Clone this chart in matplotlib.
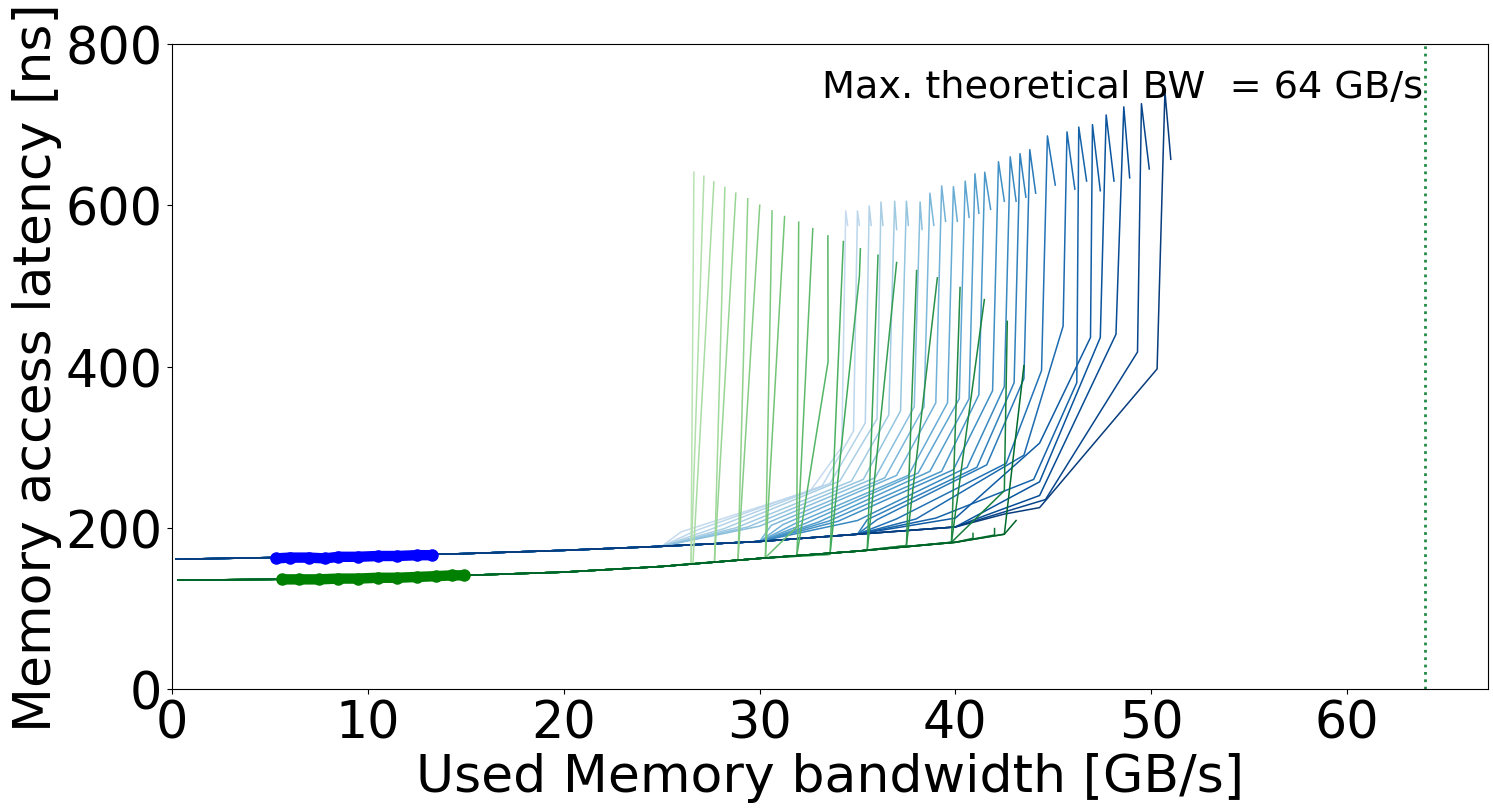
import numpy as np
import matplotlib
matplotlib.use('Agg')
from matplotlib import pyplot as plt

# shared low-load part of the curves (bandwidth GB/s, latency ns)
blue_base_bw = [0.2, 5, 10, 15, 20, 25, 30, 35, 40]
blue_base_lat = [161, 163, 165, 168, 172, 177, 183, 192, 201]
green_base_bw = [0.3, 5, 10, 15, 20, 25, 30, 35, 40, 42.5]
green_base_lat = [135, 136, 138, 141, 145, 152, 162, 171, 182, 190]

# blue family, light -> dark
blue_k1_bw = [26.0, 26.8, 27.5, 28.2, 28.8, 29.4, 30.0, 30.6, 31.2, 31.8, 32.4, 33.0, 33.5,
              34.0, 35.0, 35.5, 36.0, 37.0, 38.0, 39.0, 40.0, 41.0, 41.5, 42.0, 42.5]
blue_k1_lat = [195, 197, 198, 199, 200, 201, 202, 203, 204, 205, 206, 207, 208,
               208, 209, 210, 210, 211, 211, 212, 212, 214, 215, 216, 217]
blue_k2_bw = [32.6, 33.2, 33.6, 34.1, 34.7, 35.3, 35.9, 36.4, 37.0, 37.6, 38.1, 38.7, 39.3,
              39.9, 40.6, 41.1, 41.6, 42.6, 43.5, 44.0, 44.3, 44.3, 44.3, 44.6, 44.3]
blue_k2_lat = [246, 252, 255, 258, 258, 260, 262, 262, 265, 265, 268, 270, 270,
               272, 275, 275, 278, 280, 290, 260, 305, 257, 240, 235, 225]
blue_steep_bw = [34.2, 34.8, 35.4, 36.0, 36.6, 37.2, 37.9, 38.4, 39.0, 39.6, 40.2, 40.7, 41.2,
                 41.9, 42.5, 43.0, 43.5, 44.4, 45.5, 46.2, 46.9, 47.4, 48.2, 49.3, 50.3]
blue_steep_lat = [300, 320, 330, 335, 340, 345, 350, 350, 355, 355, 360, 360, 365,
                  370, 375, 380, 385, 395, 450, 380, 436, 436, 440, 418, 397]
blue_top_bw = [34.4, 35.0, 35.6, 36.2, 36.9, 37.5, 38.2, 38.7, 39.3, 39.9, 40.5, 41.0, 41.5,
               42.2, 42.8, 43.3, 43.8, 44.7, 45.7, 46.3, 47.0, 47.7, 48.6, 49.5, 50.7]
blue_top_lat = [593, 593, 599, 604, 605, 605, 604, 615, 624, 623, 630, 639, 641,
                654, 660, 664, 669, 686, 691, 697, 700, 712, 722, 726, 741]
blue_end_bw = [34.5, 35.1, 35.7, 36.3, 37.0, 37.6, 38.3, 38.9, 39.5, 40.1, 40.7, 41.2, 41.8,
               42.5, 43.1, 43.6, 44.1, 45.1, 46.1, 46.7, 47.4, 48.1, 48.9, 49.9, 51.0]
blue_end_lat = [575, 575, 575, 575, 570, 575, 570, 575, 580, 580, 585, 590, 595,
                605, 605, 610, 615, 625, 620, 630, 618, 630, 634, 645, 657]

# green family, light -> dark (mid point is None when the jump is direct)
green_knee_bw = [26.5, 26.5, 26.6, 27.7, 27.7, 28.9, 28.9, 30.3, 30.3, 30.3, 31.9, 31.9, 33.6,
                 33.6, 35.5, 35.5, 37.5, 37.5, 39.8, 39.8, 39.8, 40.9, 42.0, 42.5, 42.5]
green_knee_lat = [155, 155, 156, 158, 158, 160, 160, 163, 163, 163, 165, 165, 167,
                  167, 172, 172, 178, 178, 182, 182, 182, 187, 191, 192, 192]
green_mid_bw = [None, None, None, None, None, None, None, None, None, 31.9, None, 33.5, None,
                35.1, None, None, None, None, None, None, 42.5, None, None, None, None]
green_mid_lat = [None, None, None, None, None, None, None, None, None, 201, None, 406, None,
                 512, None, None, None, None, None, None, 246, None, None, None, None]
green_top_bw = [26.65, 27.16, 27.67, 28.23, 28.79, 29.4, 30.01, 30.64, 31.28, 32.0, 32.72, 33.49, 34.28,
                35.15, 36.05, 37.0, 38.02, 39.08, 40.24, 41.48, 42.65, 40.9, 42.0, 43.5, 43.1]
green_top_lat = [641, 636, 629, 622, 615, 608, 600, 593, 586, 579, 571, 562, 555,
                 546, 538, 529, 519, 510, 498, 483, 456, 193, 199, 401, 209]

# measured points (thick markers)
blue_pts_bw = [5.3, 6.0, 7.0, 7.8, 8.5, 9.5, 10.5, 11.5, 12.5, 13.3]
blue_pts_lat = [162, 163, 163, 162, 164, 164, 165, 165, 166, 166]
green_pts_bw = [5.6, 6.5, 7.5, 8.5, 9.5, 10.5, 11.5, 12.5, 13.5, 14.3, 14.9]
green_pts_lat = [136, 136, 136, 137, 137, 138, 138, 139, 140, 141, 141]

max_bw = 64

fig, ax = plt.subplots(figsize=(14.93, 8.12), dpi=100)
fig.subplots_adjust(left=0.1152, right=0.9967, bottom=0.1502, top=0.9446)

nb = len(blue_top_bw)
for i in range(nb):
    c = plt.cm.Blues(0.25 + 0.7 * i / (nb - 1))
    xs = [b for b in blue_base_bw if b < blue_k1_bw[i]]
    ys = blue_base_lat[:len(xs)]
    xs = xs + [blue_k1_bw[i], blue_k2_bw[i], blue_steep_bw[i], blue_top_bw[i], blue_end_bw[i]]
    ys = ys + [blue_k1_lat[i], blue_k2_lat[i], blue_steep_lat[i], blue_top_lat[i], blue_end_lat[i]]
    ax.plot(xs, ys, color=c, lw=1.1)

ng = len(green_top_bw)
for i in range(ng):
    c = plt.cm.Greens(0.3 + 0.6 * i / (ng - 1))
    xs = [b for b in green_base_bw if b < green_knee_bw[i]]
    ys = green_base_lat[:len(xs)]
    xs = xs + [green_knee_bw[i]]
    ys = ys + [green_knee_lat[i]]
    if green_mid_bw[i] is not None:
        xs.append(green_mid_bw[i])
        ys.append(green_mid_lat[i])
    xs.append(green_top_bw[i])
    ys.append(green_top_lat[i])
    ax.plot(xs, ys, color=c, lw=1.1)

ax.plot(blue_pts_bw, blue_pts_lat, 'o-', color='blue', ms=8, lw=7.5, solid_capstyle='round')
ax.plot(green_pts_bw, green_pts_lat, 'o-', color='green', ms=8, lw=7.5, solid_capstyle='round')

ax.axvline(max_bw, color='#238b45', ls=':', lw=2)
ax.text(max_bw - 0.1, 747, 'Max. theoretical BW  = %d GB/s' % max_bw,
        ha='right', va='center', fontsize=27.5)

ax.set_xlim(0, max_bw * 1.05)
ax.set_ylim(0, 800)
ax.set_xticks([0, 10, 20, 30, 40, 50, 60])
ax.set_yticks([0, 200, 400, 600, 800])
ax.tick_params(labelsize=36.5)
ax.set_xlabel('Used Memory bandwidth [GB/s]', fontsize=37.5, labelpad=2)
ax.set_ylabel('Memory access latency [ns]', fontsize=37.5, labelpad=2)

fig.savefig('out.png', dpi=100)
